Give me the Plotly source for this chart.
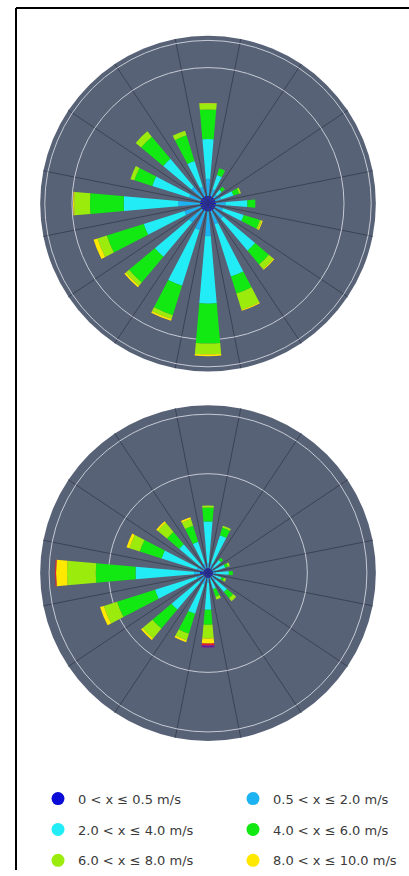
import plotly.graph_objects as go

directions = [0, 22.5, 45, 67.5, 90, 112.5, 135, 157.5, 180, 202.5, 225, 247.5, 270, 292.5, 315, 337.5]

bin_labels = ["0 < x ≤ 0.5 m/s", "0.5 < x ≤ 2.0 m/s", "2.0 < x ≤ 4.0 m/s",
              "4.0 < x ≤ 6.0 m/s", "6.0 < x ≤ 8.0 m/s", "8.0 < x ≤ 10.0 m/s",
              "10.0 < x ≤ 12.0 m/s", "x > 12.0 m/s"]
bin_colors = ["#0b0bd8", "#1db3f2", "#22ecf6", "#12e812", "#9bec0c", "#ffe800",
              "#e8202a", "#6a1a9a"]

# Upper rose: frequency (%) per speed bin, per direction (N, NNE, ... NNW)
top_b1 = [0.29, 0.29, 0.29, 0.29, 0.29, 0.29, 0.29, 0.29, 0.29, 0.29, 0.29, 0.29, 0.29, 0.29, 0.29, 0.29]
top_b2 = [0.62, 0.26, 0.15, 0.22, 0.36, 0.29, 0.44, 0.51, 0.91, 0.73, 0.62, 0.62, 0.80, 0.44, 0.51, 0.36]
top_b3 = [1.46, 0.55, 0.22, 0.47, 0.80, 0.80, 1.53, 2.01, 2.48, 2.15, 1.64, 1.57, 2.01, 1.42, 1.35, 0.99]
top_b4 = [1.09, 0.26, 0.15, 0.22, 0.29, 0.62, 0.66, 0.66, 1.46, 1.13, 1.24, 1.42, 1.24, 0.69, 1.06, 0.99]
top_b5 = [0.22, 0.00, 0.00, 0.07, 0.00, 0.07, 0.22, 0.62, 0.40, 0.15, 0.15, 0.36, 0.58, 0.15, 0.26, 0.18]
top_b6 = [0.02, 0.00, 0.00, 0.00, 0.00, 0.04, 0.04, 0.04, 0.07, 0.07, 0.07, 0.15, 0.04, 0.00, 0.00, 0.00]
top_b7 = [0, 0, 0, 0, 0, 0, 0, 0, 0, 0, 0, 0, 0, 0, 0, 0]
top_b8 = [0, 0, 0, 0, 0, 0, 0, 0, 0, 0, 0, 0, 0, 0, 0, 0]

# Lower rose
bot_b1 = [0.25, 0.25, 0.25, 0.25, 0.25, 0.25, 0.25, 0.25, 0.25, 0.25, 0.25, 0.25, 0.40, 0.25, 0.25, 0.25]
bot_b2 = [0.25, 0.25, 0.15, 0.15, 0.15, 0.15, 0.25, 0.15, 0.25, 0.35, 0.35, 0.35, 0.30, 0.35, 0.25, 0.25]
bot_b3 = [2.10, 1.50, 0.45, 0.50, 0.65, 0.30, 0.75, 0.45, 1.35, 1.55, 1.80, 2.20, 2.95, 1.85, 1.40, 1.15]
bot_b4 = [0.70, 0.40, 0.15, 0.15, 0.20, 0.15, 0.40, 0.40, 0.75, 1.05, 1.25, 2.00, 2.00, 1.15, 0.80, 0.85]
bot_b5 = [0.10, 0.10, 0.00, 0.10, 0.00, 0.10, 0.20, 0.15, 0.70, 0.35, 0.65, 0.70, 1.45, 0.55, 0.60, 0.35]
bot_b6 = [0.00, 0.00, 0.00, 0.00, 0.00, 0.00, 0.00, 0.00, 0.25, 0.10, 0.10, 0.20, 0.55, 0.15, 0.10, 0.10]
bot_b7 = [0, 0, 0, 0, 0, 0, 0, 0, 0.10, 0, 0, 0, 0.05, 0, 0, 0]
bot_b8 = [0, 0, 0, 0, 0, 0, 0, 0, 0.10, 0, 0, 0, 0, 0, 0, 0]

top_bins = [top_b1, top_b2, top_b3, top_b4, top_b5, top_b6, top_b7, top_b8]
bot_bins = [bot_b1, bot_b2, bot_b3, bot_b4, bot_b5, bot_b6, bot_b7, bot_b8]

top_range = 6.17
top_ticks = [5, 6]
bot_range = 8.45
bot_ticks = [5, 8]
spoke_angles = [11.25, 33.75, 56.25, 78.75, 101.25, 123.75, 146.25, 168.75,
                191.25, 213.75, 236.25, 258.75, 281.25, 303.75, 326.25, 348.75]

W, H = 409, 876
fig = go.Figure()

for sub, bins in (("polar", top_bins), ("polar2", bot_bins)):
    for i, vals in enumerate(bins):
        fig.add_trace(go.Barpolar(
            r=vals, theta=directions, width=10, name=bin_labels[i],
            marker=dict(color=bin_colors[i], line=dict(width=0)),
            subplot=sub, showlegend=False))

# legend: left column = bins 1,3,5 ; right column = bins 2,4,6
legend_ids = ["legend", "legend2", "legend", "legend2", "legend", "legend2"]
for i in range(6):
    fig.add_trace(go.Scatterpolar(
        r=[None], theta=[None], mode="markers", name=bin_labels[i],
        marker=dict(color=bin_colors[i], size=13, symbol="circle"),
        subplot="polar", legend=legend_ids[i], legendgroup="g%d" % i,
        showlegend=True))

bg = "#586276"
spoke = "#3b4354"
ring = "#c5cad4"

def polar_cfg(ydom, rng, ticks):
    return dict(
        domain=dict(x=[39 / W, 377 / W], y=ydom),
        bgcolor=bg,
        barmode="stack",
        hole=0,
        angularaxis=dict(rotation=90, direction="clockwise", tickmode="array",
                         tickvals=spoke_angles, showticklabels=False, ticks="",
                         gridcolor=spoke, gridwidth=1, showline=False),
        radialaxis=dict(range=[0, rng], tickmode="array", tickvals=ticks,
                        showticklabels=False, ticks="", gridcolor=ring,
                        gridwidth=1, showline=False),
    )

fig.update_layout(
    width=W, height=H,
    margin=dict(l=0, r=0, t=0, b=0),
    paper_bgcolor="white",
    polar=polar_cfg([(H - 374) / H, (H - 36) / H], top_range, top_ticks),
    polar2=polar_cfg([(H - 746) / H, (H - 408) / H], bot_range, bot_ticks),
    font=dict(family="DejaVu Sans", size=13, color="#3a3a3a"),
)

leg_common = dict(orientation="v", xanchor="left", yanchor="top",
                  y=(H - 789) / H, tracegroupgap=11, itemsizing="trace",
                  bgcolor="rgba(0,0,0,0)", borderwidth=0,
                  font=dict(family="DejaVu Sans", size=13, color="#3a3a3a"))
fig.update_layout(
    legend=dict(leg_common, x=38 / W),
    legend2=dict(leg_common, x=233 / W),
)

fig.add_shape(type="line", xref="paper", yref="paper", x0=16 / W, x1=16 / W,
              y0=0, y1=1 - 8 / H, line=dict(color="black", width=2))
fig.add_shape(type="line", xref="paper", yref="paper", x0=16 / W, x1=1,
              y0=1 - 8 / H, y1=1 - 8 / H, line=dict(color="black", width=2))

fig.write_html("out.html")
